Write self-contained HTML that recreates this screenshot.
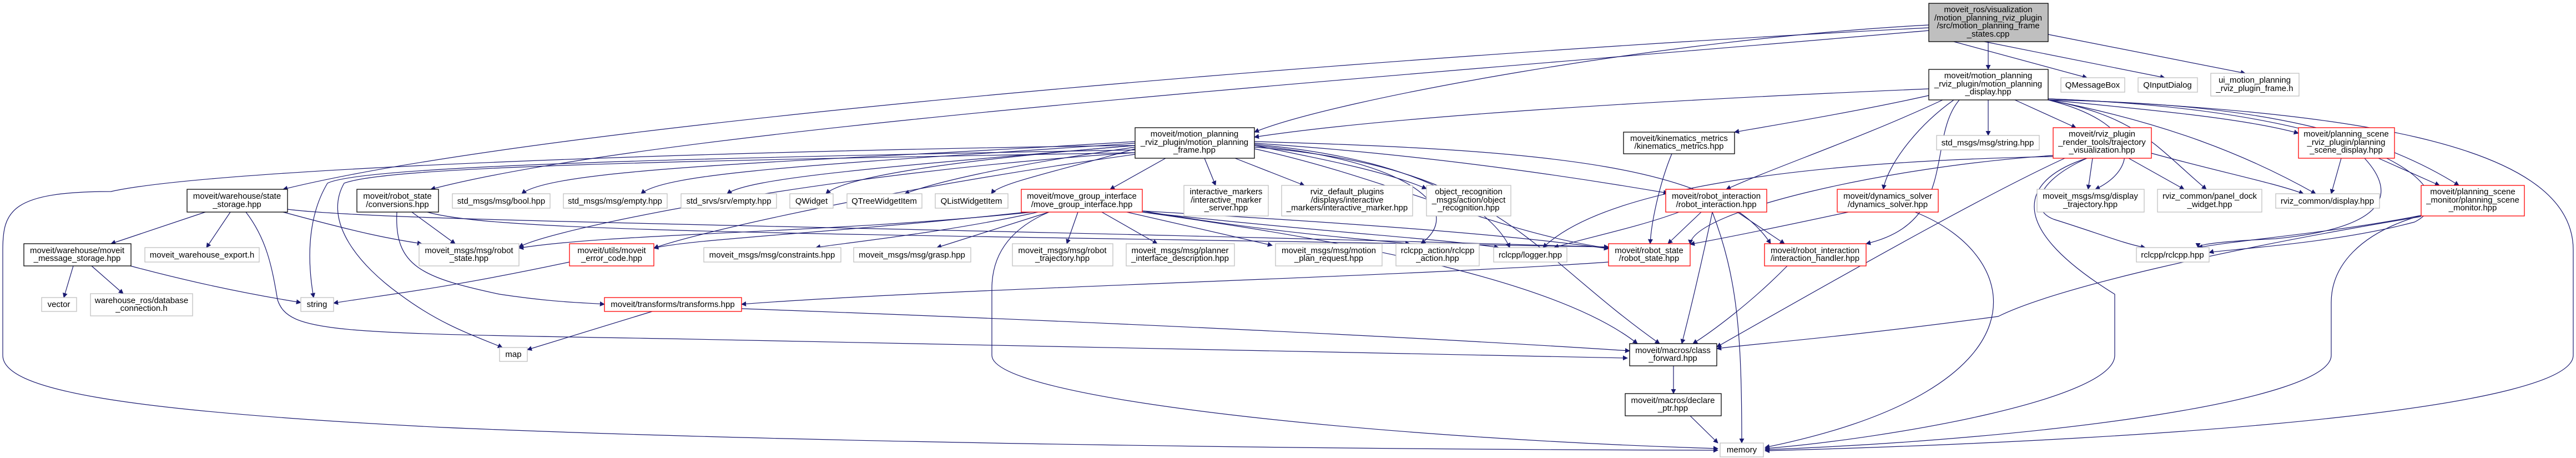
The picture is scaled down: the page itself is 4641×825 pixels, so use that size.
<!DOCTYPE html>
<html><head><meta charset="utf-8"><style>
html,body{margin:0;padding:0;background:#fff;}
svg{display:block;}
text{font-family:"Liberation Sans",sans-serif;font-size:15px;fill:#000;text-anchor:middle;}
.e{fill:none;stroke:#191970;stroke-width:1.2;marker-end:url(#a);}
.n{fill:#fff;stroke:#bfbfbf;stroke-width:1.3;}
.b{fill:#fff;stroke:#000;stroke-width:1.3;}
.r{fill:#fff;stroke:#ff0000;stroke-width:1.3;}
.g{fill:#bfbfbf;stroke:#000;stroke-width:1.3;}
</style></head><body>
<svg width="4641" height="825" viewBox="0 0 4641 825" xmlns="http://www.w3.org/2000/svg">
<defs><marker id="a" viewBox="0 0 10 10" refX="9" refY="5" markerWidth="9" markerHeight="9" orient="auto" markerUnits="userSpaceOnUse"><path d="M0,0 L10,5 L0,10 z" fill="#191970"/></marker></defs>
<g>
<path class="e" d="M3582,75 L3582,125"/>
<path class="e" d="M3520,75 L3760,140"/>
<path class="e" d="M3575,75 L3900,140"/>
<path class="e" d="M3690,62 L4045,132"/>
<path class="e" d="M3475,45 C3000,70 2400,180 2260,238"/>
<path class="e" d="M3475,50 C2500,100 1000,220 510,341"/>
<path class="e" d="M3475,55 C2500,140 1200,230 776,341"/>
<path class="e" d="M3475,160 C3000,180 2500,210 2260,247"/>
<path class="e" d="M3475,172 C3350,200 3200,225 3125,238"/>
<path class="e" d="M3582,180 L3582,244"/>
<path class="e" d="M3630,180 L3740,230"/>
<path class="e" d="M3690,180 C3900,200 4050,215 4141,240"/>
<path class="e" d="M3690,180 C4000,185 4250,220 4430,334"/>
<path class="e" d="M3690,180 C3900,220 4050,280 4172,349"/>
<path class="e" d="M3690,180 C3850,210 3880,260 3975,341"/>
<path class="e" d="M3690,180 C3850,220 3860,300 3775,341"/>
<path class="e" d="M3500,180 C3350,250 3200,300 3110,341"/>
<path class="e" d="M3520,180 C3450,230 3400,300 3393,341"/>
<path class="e" d="M3530,180 C3470,250 3530,400 3362,439"/>
<path class="e" d="M3690,178 C4300,200 4450,350 4350,400 C4200,440 4000,450 3980,455"/>
<path class="e" d="M3690,178 C4200,200 4636,250 4636,450 L4636,640 C4636,730 4000,790 3180,812"/>
<path class="e" d="M3720,285 C3600,340 3400,450 3093,625"/>
<path class="e" d="M3699,282 C3300,290 2900,330 2780,446"/>
<path class="e" d="M3699,280 C3400,300 3050,380 3045,440"/>
<path class="e" d="M3760,285 C3660,330 3660,380 3700,395 C3780,420 3830,440 3865,446"/>
<path class="e" d="M3760,285 C3650,320 3600,400 3810,530 L3810,640 C3810,720 3400,790 3180,808"/>
<path class="e" d="M3770,285 L3762,341"/>
<path class="e" d="M3835,285 L3935,341"/>
<path class="e" d="M3876,276 C4000,310 4100,330 4150,349"/>
<path class="e" d="M4218,285 L4200,349"/>
<path class="e" d="M4285,285 L4395,334"/>
<path class="e" d="M4260,285 C4320,350 4300,410 4100,430 C4000,435 3960,440 3960,446"/>
<path class="e" d="M4362,388 C4200,420 4050,430 3960,446"/>
<path class="e" d="M4362,390 C4000,450 3700,520 3600,570 C3300,610 3150,620 3093,628"/>
<path class="e" d="M4362,388 C4250,420 4200,480 4200,545 L4200,640 C4200,720 3700,790 3180,810"/>
<path class="e" d="M2045,255 C1500,290 1000,300 940,349"/>
<path class="e" d="M2045,258 C1500,295 1200,310 1155,349"/>
<path class="e" d="M2045,262 C1600,300 1350,320 1310,349"/>
<path class="e" d="M2045,262 C1700,290 1520,320 1488,349"/>
<path class="e" d="M2045,265 C1800,300 1680,330 1630,349"/>
<path class="e" d="M2045,268 C1900,310 1800,330 1786,349"/>
<path class="e" d="M2100,285 L2000,341"/>
<path class="e" d="M2170,285 L2190,334"/>
<path class="e" d="M2225,285 L2350,334"/>
<path class="e" d="M2260,262 C2400,290 2500,310 2570,340"/>
<path class="e" d="M2260,258 C2600,280 2900,330 3005,348"/>
<path class="e" d="M2260,255 C2800,270 3100,300 3190,439"/>
<path class="e" d="M2260,260 C2600,290 2700,400 2720,446"/>
<path class="e" d="M2260,262 C2550,290 2640,380 2560,439"/>
<path class="e" d="M2260,265 C2700,300 2750,450 2990,619"/>
<path class="e" d="M2260,268 C2500,320 2700,420 2898,447"/>
<path class="e" d="M2045,275 C1500,310 1000,410 935,445"/>
<path class="e" d="M2045,278 C1600,340 1250,420 1178,447"/>
<path class="e" d="M2045,270 C1200,285 650,300 590,330 C560,380 550,450 565,536"/>
<path class="e" d="M2045,275 C1200,290 700,300 620,330 C580,400 650,480 720,530 C800,590 870,610 905,626"/>
<path class="e" d="M2045,262 C1400,270 400,300 200,345 C20,345 5,380 5,450 L5,640 C5,700 200,740 800,770 C1500,800 2500,810 3095,811"/>
<path class="e" d="M1870,382 C1700,420 1500,440 1470,446"/>
<path class="e" d="M1890,382 L1688,446"/>
<path class="e" d="M1942,382 L1922,439"/>
<path class="e" d="M1985,382 L2085,439"/>
<path class="e" d="M2030,382 L2292,442"/>
<path class="e" d="M2058,380 C2300,420 2450,430 2540,439"/>
<path class="e" d="M2058,382 C2400,420 2600,430 2700,446"/>
<path class="e" d="M2058,380 C2400,400 2700,420 2898,448"/>
<path class="e" d="M1860,382 C1500,420 1100,420 935,447"/>
<path class="e" d="M1850,382 C1500,420 1250,430 1178,447"/>
<path class="e" d="M2058,382 C2400,430 2800,500 2950,619"/>
<path class="e" d="M1890,382 C1800,420 1787,480 1787,520 L1787,640 C1787,720 2500,790 3095,808"/>
<path class="e" d="M370,382 L200,439"/>
<path class="e" d="M415,382 L372,446"/>
<path class="e" d="M510,382 C650,420 700,430 760,439"/>
<path class="e" d="M443,382 C480,430 490,480 500,540 C520,600 600,600 1200,610 C2000,625 2600,635 2932,645"/>
<path class="e" d="M518,377 C700,400 1500,405 2898,445"/>
<path class="e" d="M132,479 L115,536"/>
<path class="e" d="M165,479 L222,529"/>
<path class="e" d="M235,479 C350,510 450,530 542,545"/>
<path class="e" d="M742,382 L820,439"/>
<path class="e" d="M715,382 C710,480 760,500 900,530 C1000,545 1050,545 1089,548"/>
<path class="e" d="M770,382 C900,420 1500,420 2898,445"/>
<path class="e" d="M1026,472 C800,520 700,530 601,546"/>
<path class="e" d="M1175,561 L950,630"/>
<path class="e" d="M1336,556 C2000,580 2600,610 2936,632"/>
<path class="e" d="M2898,472 C2500,500 1700,520 1336,548"/>
<path class="e" d="M3012,277 C2990,330 2975,400 2973,439"/>
<path class="e" d="M3025,382 C2950,410 2850,430 2800,446"/>
<path class="e" d="M3065,382 L3005,439"/>
<path class="e" d="M3130,382 L3215,439"/>
<path class="e" d="M3085,382 C3060,500 3040,580 3030,619"/>
<path class="e" d="M3085,382 C3130,500 3138,600 3138,798"/>
<path class="e" d="M3330,382 C3200,410 3100,430 3045,440"/>
<path class="e" d="M3450,382 C3650,460 3700,700 3180,806"/>
<path class="e" d="M3220,479 C3150,550 3080,600 3050,619"/>
<path class="e" d="M3015,659 L3015,709"/>
<path class="e" d="M3045,749 L3095,798"/>
</g>
<g>
<rect class="g" x="3475" y="6" width="215" height="69"/><text x="3582" y="22">moveit_ros/visualization</text><text x="3582" y="37">/motion_planning_rviz_plugin</text><text x="3582" y="51">/src/motion_planning_frame</text><text x="3582" y="66">_states.cpp</text>
<rect class="b" x="3475" y="125" width="215" height="55"/><text x="3582" y="141">moveit/motion_planning</text><text x="3582" y="156">_rviz_plugin/motion_planning</text><text x="3582" y="170">_display.hpp</text>
<rect class="n" x="3713" y="140" width="115" height="26"/><text x="3770" y="158">QMessageBox</text>
<rect class="n" x="3852" y="140" width="107" height="26"/><text x="3905" y="158">QInputDialog</text>
<rect class="n" x="3983" y="132" width="159" height="41"/><text x="4062" y="149">ui_motion_planning</text><text x="4062" y="164">_rviz_plugin_frame.h</text>
<rect class="b" x="2045" y="230" width="215" height="55"/><text x="2152" y="246">moveit/motion_planning</text><text x="2152" y="261">_rviz_plugin/motion_planning</text><text x="2152" y="275">_frame.hpp</text>
<rect class="b" x="2925" y="238" width="200" height="39"/><text x="3025" y="254">moveit/kinematics_metrics</text><text x="3025" y="268">/kinematics_metrics.hpp</text>
<rect class="n" x="3489" y="244" width="185" height="26"/><text x="3581" y="262">std_msgs/msg/string.hpp</text>
<rect class="r" x="3699" y="230" width="177" height="55"/><text x="3787" y="246">moveit/rviz_plugin</text><text x="3787" y="261">_render_tools/trajectory</text><text x="3787" y="275">_visualization.hpp</text>
<rect class="r" x="4141" y="230" width="173" height="55"/><text x="4227" y="246">moveit/planning_scene</text><text x="4227" y="261">_rviz_plugin/planning</text><text x="4227" y="275">_scene_display.hpp</text>
<rect class="b" x="337" y="341" width="181" height="41"/><text x="427" y="358">moveit/warehouse/state</text><text x="427" y="373">_storage.hpp</text>
<rect class="b" x="643" y="341" width="147" height="41"/><text x="716" y="358">moveit/robot_state</text><text x="716" y="373">/conversions.hpp</text>
<rect class="n" x="815" y="349" width="176" height="26"/><text x="903" y="367">std_msgs/msg/bool.hpp</text>
<rect class="n" x="1015" y="349" width="187" height="26"/><text x="1108" y="367">std_msgs/msg/empty.hpp</text>
<rect class="n" x="1227" y="349" width="172" height="26"/><text x="1313" y="367">std_srvs/srv/empty.hpp</text>
<rect class="n" x="1423" y="349" width="78" height="26"/><text x="1462" y="367">QWidget</text>
<rect class="n" x="1526" y="349" width="135" height="26"/><text x="1593" y="367">QTreeWidgetItem</text>
<rect class="n" x="1685" y="349" width="131" height="26"/><text x="1750" y="367">QListWidgetItem</text>
<rect class="r" x="1840" y="341" width="218" height="41"/><text x="1949" y="358">moveit/move_group_interface</text><text x="1949" y="373">/move_group_interface.hpp</text>
<rect class="n" x="2133" y="334" width="152" height="55"/><text x="2209" y="350">interactive_markers</text><text x="2209" y="365">/interactive_marker</text><text x="2209" y="379">_server.hpp</text>
<rect class="n" x="2309" y="334" width="236" height="55"/><text x="2427" y="350">rviz_default_plugins</text><text x="2427" y="365">/displays/interactive</text><text x="2427" y="379">_markers/interactive_marker.hpp</text>
<rect class="n" x="2570" y="334" width="152" height="55"/><text x="2646" y="350">object_recognition</text><text x="2646" y="365">_msgs/action/object</text><text x="2646" y="379">_recognition.hpp</text>
<rect class="r" x="3001" y="341" width="182" height="41"/><text x="3092" y="358">moveit/robot_interaction</text><text x="3092" y="373">/robot_interaction.hpp</text>
<rect class="r" x="3310" y="341" width="182" height="41"/><text x="3401" y="358">moveit/dynamics_solver</text><text x="3401" y="373">/dynamics_solver.hpp</text>
<rect class="n" x="3670" y="341" width="193" height="41"/><text x="3766" y="358">moveit_msgs/msg/display</text><text x="3766" y="373">_trajectory.hpp</text>
<rect class="n" x="3887" y="341" width="188" height="41"/><text x="3981" y="358">rviz_common/panel_dock</text><text x="3981" y="373">_widget.hpp</text>
<rect class="n" x="4100" y="349" width="187" height="26"/><text x="4193" y="367">rviz_common/display.hpp</text>
<rect class="r" x="4362" y="334" width="186" height="55"/><text x="4455" y="350">moveit/planning_scene</text><text x="4455" y="365">_monitor/planning_scene</text><text x="4455" y="379">_monitor.hpp</text>
<rect class="b" x="43" y="439" width="193" height="40"/><text x="139" y="456">moveit/warehouse/moveit</text><text x="139" y="470">_message_storage.hpp</text>
<rect class="n" x="261" y="446" width="206" height="26"/><text x="364" y="464">moveit_warehouse_export.h</text>
<rect class="n" x="755" y="439" width="180" height="40"/><text x="845" y="456">moveit_msgs/msg/robot</text><text x="845" y="470">_state.hpp</text>
<rect class="r" x="1026" y="439" width="152" height="40"/><text x="1102" y="456">moveit/utils/moveit</text><text x="1102" y="470">_error_code.hpp</text>
<rect class="n" x="1268" y="446" width="247" height="26"/><text x="1391" y="464">moveit_msgs/msg/constraints.hpp</text>
<rect class="n" x="1538" y="446" width="211" height="26"/><text x="1643" y="464">moveit_msgs/msg/grasp.hpp</text>
<rect class="n" x="1824" y="439" width="181" height="40"/><text x="1914" y="456">moveit_msgs/msg/robot</text><text x="1914" y="470">_trajectory.hpp</text>
<rect class="n" x="2029" y="439" width="195" height="40"/><text x="2126" y="456">moveit_msgs/msg/planner</text><text x="2126" y="470">_interface_description.hpp</text>
<rect class="n" x="2298" y="439" width="192" height="40"/><text x="2394" y="456">moveit_msgs/msg/motion</text><text x="2394" y="470">_plan_request.hpp</text>
<rect class="n" x="2515" y="439" width="150" height="40"/><text x="2590" y="456">rclcpp_action/rclcpp</text><text x="2590" y="470">_action.hpp</text>
<rect class="n" x="2691" y="446" width="132" height="26"/><text x="2757" y="464">rclcpp/logger.hpp</text>
<rect class="r" x="2898" y="439" width="147" height="40"/><text x="2971" y="456">moveit/robot_state</text><text x="2971" y="470">/robot_state.hpp</text>
<rect class="r" x="3179" y="439" width="183" height="40"/><text x="3270" y="456">moveit/robot_interaction</text><text x="3270" y="470">/interaction_handler.hpp</text>
<rect class="n" x="3849" y="446" width="131" height="26"/><text x="3914" y="464">rclcpp/rclcpp.hpp</text>
<rect class="n" x="75" y="536" width="63" height="25"/><text x="106" y="553">vector</text>
<rect class="n" x="163" y="529" width="184" height="40"/><text x="255" y="546">warehouse_ros/database</text><text x="255" y="560">_connection.h</text>
<rect class="n" x="542" y="536" width="59" height="25"/><text x="571" y="553">string</text>
<rect class="r" x="1089" y="536" width="247" height="25"/><text x="1212" y="553">moveit/transforms/transforms.hpp</text>
<rect class="n" x="900" y="626" width="50" height="25"/><text x="925" y="643">map</text>
<rect class="b" x="2936" y="619" width="157" height="40"/><text x="3014" y="636">moveit/macros/class</text><text x="3014" y="650">_forward.hpp</text>
<rect class="b" x="2928" y="709" width="173" height="40"/><text x="3014" y="726">moveit/macros/declare</text><text x="3014" y="740">_ptr.hpp</text>
<rect class="n" x="3099" y="798" width="78" height="25"/><text x="3138" y="815">memory</text>
</g>
</svg>
</body></html>
